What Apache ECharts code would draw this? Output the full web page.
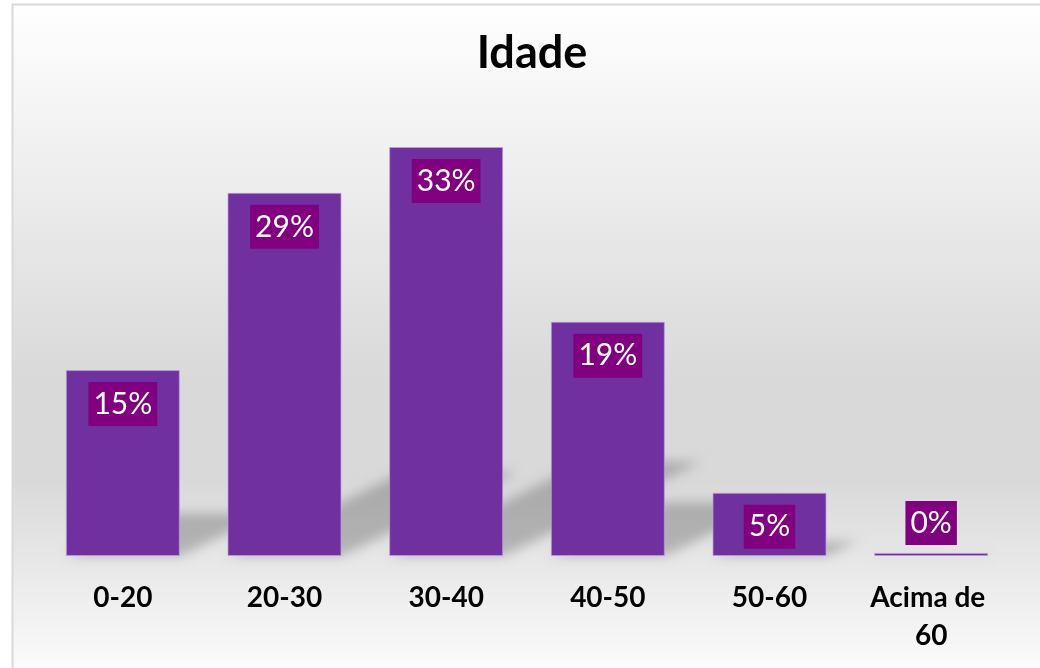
<!DOCTYPE html>
<html>
<head>
<meta charset="utf-8">
<script src="https://cdn.jsdelivr.net/npm/echarts@6/dist/echarts.min.js"></script>
<style>
html,body{margin:0;padding:0;background:#fff;}
#main{width:1040px;height:668px;}
</style>
</head>
<body>
<div id="main"></div>
<script>
const titleText = 'Idade';
const categories = ['0-20', '20-30', '30-40', '40-50', '50-60', 'Acima de 60'];
const values = [15, 29.3, 33, 18.9, 5.1, 0.25];

const chart = echarts.init(document.getElementById('main'));

const barRatio = 0.705;
const shadowData = values.map((v, i) => [i, v]);

const barData = values.map((v, i) => {
  const item = { value: v };
  if (v < 2) {
    item.label = { position: 'top', distance: 8 };
  }
  return item;
});

chart.setOption({
  animation: false,
  graphic: [{
    type: 'rect',
    z: -10,
    shape: { x: 12.5, y: 4.5, width: 1040, height: 670 },
    style: {
      fill: new echarts.graphic.LinearGradient(0, 0, 0, 1, [
        { offset: 0, color: '#ffffff' },
        { offset: 0.56, color: '#d9d9d9' },
        { offset: 0.71, color: '#d9d9d9' },
        { offset: 1, color: '#fcfcfc' }
      ]),
      stroke: '#d9d9d9',
      lineWidth: 2
    }
  }],
  title: {
    text: titleText,
    left: 527,
    textAlign: 'center',
    top: 26,
    textStyle: { fontFamily: 'Lato', fontWeight: 'bold', fontSize: 45, color: '#000' }
  },
  grid: { left: 42, right: 28, top: 147, bottom: 112, containLabel: false },
  xAxis: {
    type: 'category',
    data: categories,
    axisLine: { show: false },
    axisTick: { show: false },
    axisLabel: {
      interval: 0,
      margin: 23,
      color: '#000',
      fontFamily: 'Lato',
      fontWeight: 'bold',
      fontSize: 28,
      lineHeight: 38,
      width: 140,
      overflow: 'break'
    }
  },
  yAxis: {
    type: 'value', min: 0, max: 33, show: false,
    splitLine: { show: false }
  },
  series: [{
    type: 'custom',
    z: 1,
    clip: false,
    silent: true,
    data: shadowData,
    renderItem: function (params, api) {
      const idx = api.value(0), v = api.value(1);
      const base = api.coord([idx, 0]);
      const top = api.coord([idx, v]);
      const bw = api.size([1, 0])[0] * barRatio;
      const h = base[1] - top[1];
      const kh = 0.23 * h;
      const dx = 2.1 * kh;
      const x0 = base[0] - bw / 2, x1 = base[0] + bw / 2, y0 = base[1];
      const off = 3000;
      return {
        type: 'polygon',
        shape: { points: [[x0 + off, y0], [x1 + off, y0], [x1 + dx + off, y0 - kh], [x0 + dx + off, y0 - kh]] },
        style: {
          fill: '#000',
          shadowColor: 'rgba(0,0,0,0.22)',
          shadowBlur: 12,
          shadowOffsetX: -off,
          shadowOffsetY: 0
        }
      };
    }
  }, {
    type: 'bar',
    z: 3,
    data: barData,
    barWidth: (barRatio * 100) + '%',
    itemStyle: { color: '#7030A0', borderColor: 'rgba(190,160,220,0.7)', borderWidth: 1 },
    label: {
      show: true,
      position: 'insideTop',
      distance: 12,
      formatter: function (p) { return Math.round(p.value) + '%'; },
      color: '#ffffff',
      fontFamily: 'Lato',
      fontSize: 30,
      lineHeight: 36,
      backgroundColor: '#800080',
      padding: [4, 5]
    }
  }]
});
</script>
</body>
</html>
